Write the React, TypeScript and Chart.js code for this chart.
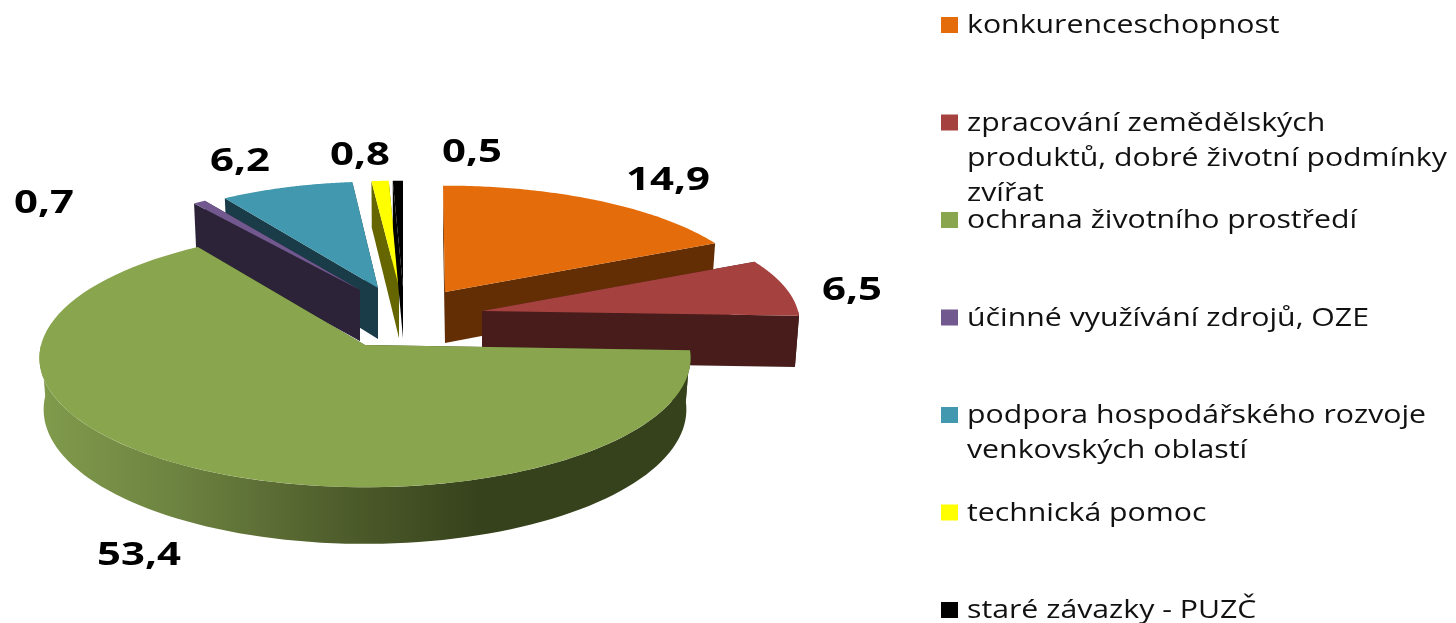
import React, { useEffect, useRef } from "react";
import { Chart, registerables } from "chart.js";

Chart.register(...registerables);

const categories = [
  ["konkurenceschopnost"],
  ["zpracování zemědělských", "produktů, dobré životní podmínky", "zvířat"],
  ["ochrana životního prostředí"],
  ["účinné využívání zdrojů, OZE"],
  ["podpora hospodářského rozvoje", "venkovských oblastí"],
  ["technická pomoc"],
  ["staré závazky - PUZČ"],
];
const values = [14.9, 6.5, 53.4, 0.7, 6.2, 0.8, 0.5];
const topColors = ["#E46C0A", "#A5423F", "#89A54E", "#71588F", "#4198AF", "#FFFF00", "#000000"];
const wallColors = ["#632E04", "#471C1B", "#36421C", "#2C2339", "#1A3C48", "#666600", "#000000"];

// Where each exploded slice sits in the perspective view (apex, radii, small angle corrections in degrees).
const sliceViews = [
  { ax: 445, ay: 292, rx: 313, ry: 117, ds: -0.4, de: -0.4 },
  { ax: 482, ay: 311, rx: 316, ry: 118, ds: -0.4, de: -0.5 },
  { ax: 365, ay: 345, rx: 324, ry: 128, ds: -0.5, de: 1.6 },
  { ax: 360, ay: 290, rx: 298, ry: 117, ds: -1.4, de: -1.8 },
  { ax: 378, ay: 288, rx: 298, ry: 117, ds: -1.3, de: 0.2 },
  { ax: 399, ay: 287, rx: 298, ry: 117, ds: -0.2, de: 0 },
  { ax: 403, ay: 287, rx: 298, ry: 117, ds: 0, de: 0 },
];
const drawOrder = [0, 1, 4, 3, 5, 6, 2];
const valueLabelCenters = [
  [668, 178], [852, 288], [139, 553], [44, 201], [240, 159], [360, 153], [472, 150],
];
const PERSPECTIVE = 0.1;
const DEPTH = 51;
const TAPER = 0.987;
const LEGEND_Y0 = 25;
const LEGEND_STEP = 97.5;
const LINE_STEP = 35;

const D2R = Math.PI / 180;

function project(v: any, th: number) {
  const u = Math.sin(th);
  const d = -Math.cos(th);
  const w = 1 - PERSPECTIVE * d;
  return { x: v.ax + (v.rx * u) / w, y: v.ay + (v.ry * d) / w, w };
}
function lower(v: any, p: any) {
  return { x: v.ax + (p.x - v.ax) * TAPER, y: p.y + DEPTH / p.w };
}
function poly(ctx: CanvasRenderingContext2D, pts: any[], fill: any) {
  ctx.beginPath();
  pts.forEach((p, i) => (i ? ctx.lineTo(p.x, p.y) : ctx.moveTo(p.x, p.y)));
  ctx.closePath();
  ctx.fillStyle = fill;
  ctx.fill();
}
function stretched(ctx: CanvasRenderingContext2D, s: string, x: number, y: number, sx: number) {
  ctx.save();
  ctx.translate(x, y);
  ctx.scale(sx, 1);
  ctx.fillText(s, 0, 0);
  ctx.restore();
}

const pie3d = {
  id: "pie3d",
  beforeDatasetDraw(chart: any) {
    const ctx: CanvasRenderingContext2D = chart.ctx;
    const arcs = chart.getDatasetMeta(0).data;
    for (const i of drawOrder) {
      const v = sliceViews[i];
      const a0 = arcs[i].startAngle + Math.PI / 2 + v.ds * D2R;
      const a1 = arcs[i].endAngle + Math.PI / 2 + v.de * D2R;
      const apex = { x: v.ax, y: v.ay, w: 1 };
      const steps = 90;
      const rim: any[] = [];
      for (let s = 0; s <= steps; s++) rim.push(project(v, a0 + ((a1 - a0) * s) / steps));
      const wall = wallColors[i];
      const pS = rim[0];
      const pE = rim[steps];
      poly(ctx, [apex, pS, lower(v, pS), lower(v, apex)], wall);
      poly(ctx, [apex, pE, lower(v, pE), lower(v, apex)], wall);
      const lo = Math.max(a0, Math.PI / 2);
      const hi = Math.min(a1, (3 * Math.PI) / 2);
      if (hi > lo) {
        const front: any[] = [];
        for (let s = 0; s <= steps; s++) front.push(project(v, lo + ((hi - lo) * s) / steps));
        let fill: any = wall;
        if (i === 2) {
          const g = ctx.createLinearGradient(40, 0, 480, 0);
          g.addColorStop(0, "#819B4C");
          g.addColorStop(0.32, "#6C8240");
          g.addColorStop(0.65, "#51602D");
          g.addColorStop(1, wall);
          fill = g;
        }
        poly(ctx, [...front, ...front.slice().reverse().map((p) => lower(v, p))], fill);
      }
      poly(ctx, [apex, ...rim], topColors[i]);
    }
    return false;
  },
  afterDraw(chart: any) {
    const ctx: CanvasRenderingContext2D = chart.ctx;
    ctx.save();
    ctx.textBaseline = "alphabetic";
    // value labels
    ctx.fillStyle = "#000000";
    ctx.font = 'bold 33px "Open Sans"';
    values.forEach((val, i) => {
      const s = String(val).replace(".", ",");
      const sx = 1.27;
      const w = ctx.measureText(s).width * sx;
      stretched(ctx, s, valueLabelCenters[i][0] - w / 2, valueLabelCenters[i][1] + 11.5, sx);
    });
    // legend
    ctx.font = '25px "Open Sans"';
    chart.data.labels.forEach((lines: string[], i: number) => {
      const cy = LEGEND_Y0 + LEGEND_STEP * i;
      ctx.fillStyle = topColors[i];
      ctx.fillRect(941, cy - 8, 17, 16);
      ctx.fillStyle = "#111111";
      lines.forEach((t, j) => stretched(ctx, t, 967, cy + 8 + j * LINE_STEP, 1.21));
    });
    ctx.restore();
  },
};

export default function App() {
  const ref = useRef<HTMLCanvasElement | null>(null);
  useEffect(() => {
    const chart = new Chart(ref.current as HTMLCanvasElement, {
      type: "pie",
      data: {
        labels: categories as any,
        datasets: [{ data: values, backgroundColor: topColors, borderWidth: 0 }],
      },
      options: {
        responsive: false,
        animation: false,
        plugins: { legend: { display: false }, tooltip: { enabled: false } },
      },
      plugins: [pie3d as any],
    });
    return () => chart.destroy();
  }, []);
  return (
    <div style={{ position: "absolute", left: 0, top: 0, width: 1456, height: 623, background: "#fff" }}>
      <canvas ref={ref} width={1456} height={623} style={{ display: "block", filter: "blur(0.7px)" }} />
    </div>
  );
}
